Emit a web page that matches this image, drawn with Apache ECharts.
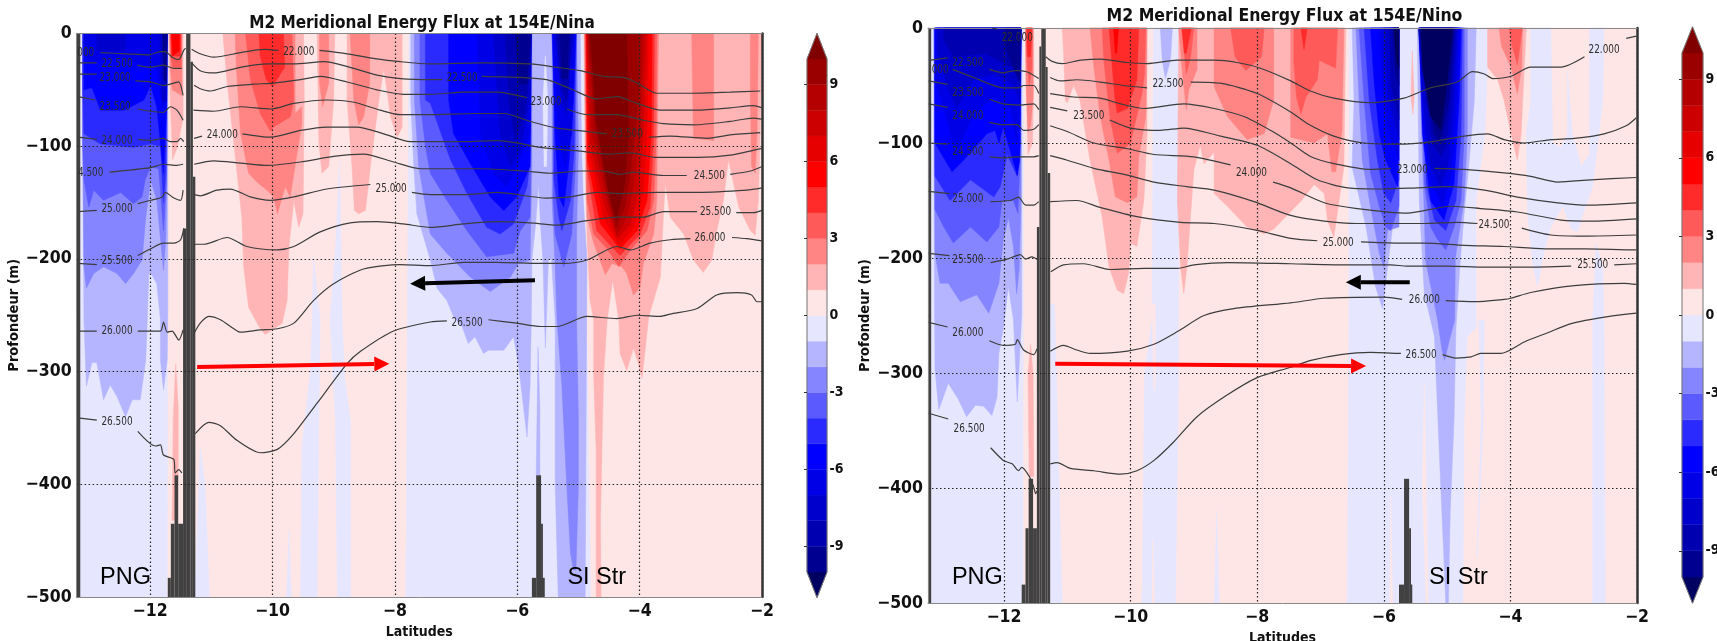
<!DOCTYPE html>
<html><head><meta charset="utf-8">
<style>html,body{margin:0;padding:0;background:#fff}#c{width:1717px;height:641px}</style>
<script src="https://cdn.jsdelivr.net/npm/echarts@6/dist/echarts.min.js"></script>
</head><body><div id="c"></div>
<script>
// Flux colour bands: band k spans [k-11, k-10]
const bandColors=['#000060','#000090','#0000b0','#0000cc','#0000e6','#0000ff','#2a2aff','#5a5aff','#8585ff','#b5b5ff','#e6e6ff','#ffe6e6','#ffb5b5','#ff8585','#ff5a5a','#ff2a2a','#ff0000','#e60000','#cc0000','#b40000','#9b0000','#800000'];
const colorbarTicks=[-9,-6,-3,0,3,6,9];
const latTicks=[-12,-10,-8,-6,-4,-2];
const titles=['M2 Meridional Energy Flux at 154E/Nina','M2 Meridional Energy Flux at 154E/Nino'];

// Flux regions: [band value, ring of lat,depth pairs], painted in order
const ninaBackground=[
[0.5,[-13.2,0,-2,0,-2,500,-13.2,500]],
[-0.5,[-13.2,0,-11.71,0,-11.71,250,-11.72,500,-13.2,500]],
[-0.5,[-7.77,0,-4.92,0,-4.90,150,-4.85,300,-4.80,500,-7.82,500,-7.80,300]],
[-0.5,[-9.33,198,-9.22,254,-9.24,340,-9.27,500,-9.54,500,-9.52,367,-9.38,299,-9.35,254]],
[-0.5,[-8.90,112,-8.86,254,-8.82,306,-8.72,345,-8.72,500,-8.94,500,-8.97,345,-9.06,254,-8.97,190]],
[-0.5,[-11.18,367,-11.10,400,-11.03,500,-11.27,500]],
[-0.5,[-9.73,440,-9.69,500,-9.77,500]]];
const ninaWestBlue=[
[-1.5,[-13.10,0,-11.71,0,-11.71,250,-11.72,290,-11.78,316,-11.83,290,-11.83,254,-11.89,222,-11.99,212,-12.02,213,-12.05,262,-12.07,290,-12.16,325,-12.29,325,-12.40,340,-12.54,322,-12.65,312,-12.76,325,-12.87,292,-12.95,292,-13.04,313,-13.08,254,-13.10,100]],
[-2.5,[-13.10,0,-11.71,0,-11.72,100,-11.74,180,-11.78,210,-11.89,148,-11.99,130,-12.07,163,-12.13,201,-12.27,213,-12.40,222,-12.54,213,-12.76,207,-12.92,213,-13.04,226,-13.08,207,-13.10,100]],
[-3.5,[-13.10,0,-11.72,0,-11.73,130,-11.78,175,-11.86,120,-11.99,118,-12.08,130,-12.13,145,-12.27,151,-12.48,141,-12.76,148,-12.92,139,-13.00,154,-13.08,130,-13.10,100]],
[-4.5,[-13.10,0,-11.72,0,-11.74,120,-11.78,150,-11.83,100,-11.99,98,-12.27,101,-12.81,98,-13.08,89,-13.10,50]],
[-5.5,[-13.08,0,-11.72,0,-11.73,68,-11.78,124,-11.89,65,-11.99,46,-12.10,59,-12.43,68,-12.81,68,-12.95,48,-13.08,50]],
[-6.5,[-13.08,0,-11.72,0,-11.74,60,-11.80,65,-11.89,30,-12.10,28,-12.48,22,-12.95,25,-13.08,20]],
[-7.5,[-12.87,0,-12.40,0,-12.40,15,-12.87,15]],
[-7.5,[-11.85,0,-11.72,0,-11.73,60,-11.80,60]],
[-9.5,[-11.80,0,-11.72,0,-11.73,45,-11.78,40]]];
const ninaEastBlue=[
[-1.5,[-7.74,0,-4.97,0,-4.95,100,-4.92,148,-4.86,200,-4.87,300,-4.89,500,-5.33,500,-5.38,400,-5.38,254,-5.44,200,-5.49,200,-5.54,279,-5.58,200,-5.62,170,-5.65,133,-5.70,170,-5.76,200,-5.77,254,-5.79,313,-5.84,358,-5.98,293,-6.06,269,-6.22,281,-6.47,281,-6.55,284,-6.69,269,-6.80,275,-6.90,260,-7.04,251,-7.15,237,-7.31,226,-7.42,201,-7.64,160,-7.69,118,-7.74,59]],
[-1.5,[-5.66,278,-5.63,330,-5.63,392,-5.69,392]],
[-2.5,[-7.68,0,-5.76,0,-5.76,118,-5.79,201,-5.98,204,-6.11,216,-6.44,229,-6.77,216,-7.15,195,-7.42,178,-7.61,118,-7.68,59]],
[-2.5,[-5.43,0,-5.03,0,-5.00,100,-5.03,178,-5.03,254,-5.00,343,-5.00,402,-5.04,476,-5.08,476,-5.13,461,-5.19,402,-5.27,313,-5.35,254,-5.38,207,-5.43,148]],
[-3.5,[-7.59,0,-5.77,0,-5.77,89,-5.79,163,-5.95,175,-6.06,195,-6.50,198,-6.82,175,-7.15,148,-7.42,124,-7.50,100,-7.59,59]],
[-3.5,[-5.41,0,-5.03,0,-5.05,118,-5.11,178,-5.24,207,-5.38,178,-5.41,148]],
[-4.5,[-7.50,0,-5.77,0,-5.79,112,-5.84,136,-6.06,169,-6.28,178,-6.50,172,-6.82,142,-7.09,112,-7.42,62,-7.50,59]],
[-4.5,[-5.40,0,-5.04,0,-5.07,104,-5.13,148,-5.27,175,-5.32,163,-5.40,130]],
[-5.5,[-7.12,0,-5.77,0,-5.79,118,-6.01,145,-6.22,157,-6.44,145,-6.77,115,-7.04,89,-7.12,59]],
[-5.5,[-5.43,0,-5.04,0,-5.08,59,-5.16,118,-5.24,154,-5.32,145,-5.38,89]],
[-6.5,[-6.66,0,-5.77,0,-5.79,89,-6.01,118,-6.17,136,-6.39,124,-6.60,89]],
[-6.5,[-5.41,0,-5.06,0,-5.11,89,-5.22,118,-5.32,89]],
[-7.5,[-6.39,0,-5.77,0,-5.79,59,-5.95,104,-6.11,118,-6.28,89]],
[-7.5,[-5.38,0,-5.08,0,-5.13,30,-5.19,74,-5.27,59]],
[-8.5,[-6.20,0,-5.77,0,-5.79,30,-5.87,70,-6.03,95,-6.14,60]],
[-8.5,[-5.35,0,-5.12,0,-5.15,30,-5.19,60,-5.27,50]],
[-9.5,[-6.03,0,-5.78,0,-5.84,45,-5.98,45]],
[-9.5,[-5.30,0,-5.15,0,-5.18,40,-5.27,40]],
[-0.5,[-5.54,20,-5.50,60,-5.52,118,-5.56,118,-5.58,60]]];
const ninaWestRed=[
[1.5,[-10.81,0,-9.49,0,-9.48,59,-9.50,160,-9.57,172,-9.65,148,-9.73,189,-9.76,237,-9.84,257,-9.92,260,-10.12,267,-10.22,260,-10.39,243,-10.47,207,-10.50,163,-10.63,98,-10.74,44]],
[1.5,[-9.27,0,-8.98,0,-9.00,59,-9.08,118,-9.19,124,-9.24,98]],
[1.5,[-8.78,0,-7.88,0,-7.88,83,-7.96,92,-8.07,74,-8.18,31,-8.26,59,-8.40,118,-8.48,157,-8.59,160,-8.66,157,-8.70,118,-8.78,59]],
[1.5,[-11.69,0,-11.46,0,-11.46,75,-11.55,100,-11.63,112,-11.67,60]],
[1.5,[-11.58,293,-11.54,330,-11.54,392,-11.60,432,-11.64,432,-11.62,340]],
[2.5,[-10.61,0,-9.63,0,-9.63,71,-9.52,65,-9.52,80,-9.71,145,-9.79,136,-9.92,160,-9.98,145,-10.09,139,-10.25,132,-10.39,124,-10.52,89,-10.59,30]],
[2.5,[-9.23,0,-9.08,0,-9.08,44,-9.18,65,-9.23,44]],
[2.5,[-8.73,0,-8.41,0,-8.41,44,-8.51,74,-8.59,81,-8.67,59]],
[2.5,[-11.68,0,-11.48,0,-11.48,55,-11.64,50,-11.67,30]],
[3.5,[-10.44,0,-9.68,0,-9.65,59,-9.71,74,-9.98,83,-10.03,87,-10.20,71,-10.36,41]],
[3.5,[-11.67,0,-11.49,0,-11.49,30,-11.63,30,-11.66,20]],
[4.5,[-10.22,0,-9.82,0,-9.80,30,-10.00,47,-10.10,41,-10.20,20]],
[4.5,[-11.66,0,-11.50,0,-11.50,20,-11.65,20]],
[5.5,[-11.65,0,-11.52,0,-11.52,15,-11.63,20]]];
const ninaEastRed=[
[1.5,[-4.91,0,-2.00,0,-2.03,89,-2.06,148,-2.11,179,-2.19,175,-2.38,154,-2.55,112,-2.63,148,-2.74,175,-2.82,201,-2.96,212,-3.12,201,-3.28,178,-3.50,163,-3.58,133,-3.61,160,-3.66,216,-3.85,251,-3.96,306,-4.02,293,-4.10,279,-4.21,299,-4.32,284,-4.34,254,-4.44,219,-4.53,254,-4.59,304,-4.64,432,-4.63,500,-4.71,500,-4.71,372,-4.75,304,-4.75,254,-4.81,237,-4.86,178,-4.89,118]],
[2.5,[-4.90,0,-3.69,0,-3.71,89,-3.72,148,-3.77,178,-3.94,204,-3.99,225,-4.10,232,-4.21,213,-4.29,207,-4.45,204,-4.56,214,-4.75,186,-4.86,163,-4.89,59]],
[2.5,[-3.15,0,-2.79,0,-2.79,95,-3.12,93]],
[2.5,[-2.19,0,-2.06,0,-2.08,89,-2.11,124,-2.17,118,-2.19,59]],
[3.5,[-4.89,0,-3.72,0,-3.73,89,-3.77,148,-3.88,175,-4.15,192,-4.34,207,-4.53,191,-4.75,178,-4.86,148]],
[4.5,[-4.88,0,-3.76,0,-3.77,89,-3.83,154,-3.99,178,-4.32,197,-4.70,175,-4.86,118]],
[5.5,[-4.87,0,-3.80,0,-3.81,89,-3.88,148,-4.04,175,-4.32,191,-4.64,169,-4.85,112]],
[6.5,[-4.87,0,-3.85,0,-3.88,89,-3.94,142,-4.10,172,-4.33,188,-4.59,163,-4.83,104]],
[7.5,[-4.86,0,-3.89,0,-3.94,89,-4.02,139,-4.15,169,-4.36,182,-4.56,154,-4.81,98]],
[8.5,[-4.85,0,-3.94,0,-3.99,89,-4.10,136,-4.21,163,-4.37,178,-4.53,148,-4.78,89]],
[9.5,[-4.83,0,-3.99,0,-4.02,59,-4.15,124,-4.24,154,-4.38,172,-4.51,145,-4.73,83]],
[10.5,[-4.81,0,-4.21,0,-4.18,89,-4.24,133,-4.38,166,-4.51,139,-4.70,80]]];

const ninoBackground=[
[0.5,[-13.2,0,-2,0,-2,500,-13.2,500]],
[-0.5,[-13.2,0,-11.69,0,-11.70,500,-13.2,500]],
[-0.5,[-9.64,0,-9.24,0,-9.24,300,-9.29,500,-9.82,500,-9.78,300,-9.66,254]],
[0.5,[-9.66,240,-9.61,240,-9.61,310,-9.63,315]],
[0.5,[-9.65,445,-9.62,500,-9.66,500]],
[-0.5,[-11.27,240,-11.20,240,-11.08,500,-11.27,500]],
[-0.5,[-8.64,420,-8.60,500,-8.68,500]],
[-0.5,[-6.55,0,-4.36,0,-4.36,30,-4.40,90,-4.54,150,-4.54,261,-4.68,268,-4.73,341,-4.75,500,-6.58,500,-6.55,254]],
[0.5,[-5.36,310,-5.33,400,-5.30,500,-5.33,500,-5.39,400]],
[0.5,[-5.89,407,-5.86,500,-5.90,500]],
[-0.5,[-4.57,254,-4.41,254,-4.43,340,-4.52,460,-4.53,460,-4.46,340,-4.50,254]],
[-0.5,[-3.68,0,-3.36,0,-3.33,100,-3.20,104,-3.10,92,-3.10,37,-3.02,92,-2.88,120,-2.75,110,-2.75,0,-2.52,0,-2.54,63,-2.70,138,-2.83,158,-2.94,177,-3.04,175,-3.17,155,-3.36,173,-3.46,193,-3.57,225,-3.65,205,-3.73,161,-3.75,92,-3.68,63]],
[-0.5,[-2.65,187,-2.54,208,-2.52,254,-2.50,500,-2.70,500,-2.70,254]],
[-1.5,[-9.53,0,-9.34,0,-9.37,28,-9.45,44,-9.50,28]]];
const ninoWestBlue=[
[-1.5,[-13.11,0,-11.72,0,-11.72,250,-11.79,325,-11.85,254,-11.93,225,-12.01,261,-12.08,283,-12.11,321,-12.19,337,-12.32,329,-12.45,328,-12.59,338,-12.72,323,-12.88,309,-13.03,332,-13.09,297,-13.11,100]],
[-2.5,[-13.10,0,-11.73,0,-11.73,150,-11.76,210,-11.80,231,-11.85,190,-11.93,165,-12.01,184,-12.08,222,-12.24,248,-12.43,232,-12.69,238,-12.88,222,-13.01,222,-13.09,196]],
[-3.5,[-13.10,0,-11.73,0,-11.75,120,-11.78,161,-11.85,150,-12.03,150,-12.08,173,-12.27,186,-12.53,173,-12.80,187,-12.95,173,-13.09,158]],
[-4.5,[-13.10,0,-11.73,0,-11.74,100,-11.79,129,-11.95,110,-12.06,138,-12.16,147,-12.53,132,-12.85,150,-13.09,129]],
[-5.5,[-13.09,0,-11.73,0,-11.75,115,-11.79,128,-12.01,86,-12.08,100,-12.14,89,-12.27,92,-12.64,115,-12.82,125,-13.09,100]],
[-6.5,[-13.08,0,-11.73,0,-11.75,80,-11.80,100,-11.90,70,-12.16,60,-12.48,75,-12.77,110,-12.90,80,-13.09,45]],
[-7.5,[-13.05,0,-11.73,0,-11.75,65,-11.85,50,-12.16,40,-12.48,45,-12.75,70,-12.90,50,-13.05,20]],
[-8.5,[-12.95,0,-11.73,0,-11.75,50,-11.85,35,-12.30,22,-12.80,25,-12.95,10]],
[-9.5,[-11.98,0,-11.73,0,-11.75,45,-11.85,35,-11.98,15]]];
const ninoEastBlue=[
[-1.5,[-6.50,0,-5.76,0,-5.76,150,-5.84,164,-5.94,208,-6.02,244,-6.13,225,-6.28,173,-6.50,121,-6.47,63]],
[-1.5,[-5.47,0,-4.54,0,-4.57,63,-4.65,115,-4.73,161,-4.80,208,-4.86,261,-4.89,341,-4.95,420,-4.98,500,-5.02,500,-5.10,399,-5.20,268,-5.26,254,-5.36,231,-5.44,150]],
[-2.5,[-6.44,0,-5.76,0,-5.76,173,-5.94,176,-6.00,208,-6.07,196,-6.21,155,-6.34,115,-6.39,63]],
[-2.5,[-5.44,0,-4.68,0,-4.68,92,-4.73,150,-4.78,167,-4.87,200,-4.88,254,-4.98,275,-5.04,289,-5.08,280,-5.15,254,-5.34,202,-5.36,161,-5.41,80]],
[-3.5,[-6.39,0,-5.76,0,-5.76,155,-5.89,176,-5.97,173,-6.07,155,-6.21,126,-6.31,63]],
[-3.5,[-5.41,0,-4.73,0,-4.73,92,-4.78,150,-4.89,173,-5.02,193,-5.15,184,-5.26,173,-5.36,135]],
[-4.5,[-6.31,0,-5.76,0,-5.76,132,-5.89,152,-6.00,144,-6.10,115,-6.23,63]],
[-4.5,[-5.39,0,-4.76,0,-4.78,92,-4.86,150,-5.02,176,-5.20,167,-5.33,135]],
[-5.5,[-6.21,0,-5.76,0,-5.78,138,-5.97,115,-6.07,92,-6.15,48]],
[-5.5,[-5.44,0,-4.78,0,-4.81,63,-4.89,135,-5.05,167,-5.26,150,-5.39,92]],
[-6.5,[-6.07,0,-5.76,0,-5.76,115,-5.89,97,-6.00,63]],
[-6.5,[-5.45,0,-4.81,0,-4.84,63,-4.94,129,-5.07,155,-5.26,133,-5.38,80]],
[-7.5,[-6.00,0,-5.76,0,-5.76,97,-5.92,63]],
[-7.5,[-5.45,0,-4.84,0,-4.89,63,-4.99,121,-5.10,138,-5.26,121,-5.38,60]],
[-8.5,[-5.92,0,-5.76,0,-5.76,80,-5.88,50]],
[-8.5,[-5.44,0,-4.86,0,-4.94,63,-5.02,103,-5.10,112,-5.23,100,-5.38,40]],
[-9.5,[-5.86,0,-5.76,0,-5.76,50,-5.82,40]],
[-9.5,[-5.44,0,-4.89,0,-4.97,63,-5.10,100,-5.20,92,-5.38,30]],
[-10.5,[-5.84,0,-5.76,0,-5.76,35,-5.80,30]],
[-10.5,[-5.41,0,-4.91,0,-5.00,48,-5.10,89,-5.26,77,-5.39,34]]];
const ninoRed=[
[1.5,[-11.66,0,-11.53,0,-11.53,50,-11.55,100,-11.62,110,-11.65,50]],
[1.5,[-11.58,275,-11.54,300,-11.53,390,-11.60,390,-11.62,300]],
[1.5,[-11.08,0,-9.74,0,-9.74,92,-9.79,150,-9.90,190,-10.00,187,-10.03,213,-10.11,231,-10.21,228,-10.34,208,-10.45,164,-10.64,115,-10.80,63,-10.90,50,-11.00,65,-11.03,63,-11.06,20]],
[1.5,[-9.24,0,-6.60,0,-6.63,121,-6.79,182,-6.89,167,-6.94,144,-7.10,136,-7.30,150,-7.74,175,-7.89,179,-8.16,173,-8.47,155,-8.68,144,-8.68,108,-8.84,118,-8.90,102,-9.00,123,-9.11,208,-9.16,231,-9.21,208,-9.26,150]],
[1.5,[-4.36,0,-3.75,0,-3.78,34,-3.83,92,-3.89,115,-3.99,92,-4.10,63,-4.20,45,-4.36,34]],
[1.5,[-5.55,20,-5.52,60,-5.54,75,-5.57,60]],
[2.5,[-11.66,0,-11.54,0,-11.54,60,-11.58,85,-11.62,90,-11.65,50]],
[2.5,[-10.64,0,-9.74,0,-9.76,77,-9.87,112,-9.90,147,-10.05,152,-10.24,147,-10.34,115,-10.48,77,-10.58,34]],
[2.5,[-9.24,0,-8.95,0,-8.95,36,-9.08,54,-9.12,71,-9.19,34]],
[2.5,[-8.68,0,-7.74,0,-7.74,63,-7.89,92,-8.16,97,-8.47,77,-8.68,51]],
[2.5,[-7.47,0,-6.63,0,-6.66,90,-6.76,125,-6.82,125,-6.89,92,-7.10,100,-7.47,95]],
[2.5,[-4.18,0,-3.81,0,-3.82,34,-3.89,57,-3.99,34,-4.14,16]],
[3.5,[-11.65,0,-11.55,0,-11.56,35,-11.60,50,-11.63,35]],
[3.5,[-10.45,0,-9.76,0,-9.78,40,-9.82,57,-10.00,100,-10.21,109,-10.32,80,-10.42,30]],
[3.5,[-9.19,0,-9.00,0,-9.05,25,-9.12,40]],
[3.5,[-8.42,0,-7.89,0,-7.93,25,-8.18,37,-8.35,25]],
[3.5,[-7.42,0,-6.73,0,-6.76,35,-7.02,28,-7.05,45,-7.23,60,-7.31,75,-7.38,60,-7.42,30]],
[3.5,[-4.02,0,-3.81,0,-3.89,32,-3.97,16]],
[4.5,[-11.64,0,-11.56,0,-11.58,25,-11.63,25]],
[4.5,[-10.34,0,-9.87,0,-9.90,45,-10.05,70,-10.21,74,-10.25,60]],
[4.5,[-9.19,0,-9.04,0,-9.12,22,-9.15,22]],
[4.5,[-7.31,0,-7.21,0,-7.26,19]],
[5.5,[-10.27,0,-10.19,0,-10.22,22,-10.24,22]]];

// Sea-floor columns: west lat, east lat, top depth
const ninaFloor=[[-13.2,-13.14,0],[-11.41,-11.34,0],[-11.34,-11.30,25],[-11.30,-11.26,127],[-11.46,-11.41,173],[-11.60,-11.54,392],[-11.66,-11.60,435],[-11.54,-11.46,435],[-11.71,-11.66,483],[-5.69,-5.61,392],[-5.61,-5.58,435],[-5.76,-5.69,483],[-5.61,-5.55,483]];
const ninoFloor=[[-13.2,-13.15,0],[-11.41,-11.34,0],[-11.44,-11.41,16],[-11.34,-11.31,34],[-11.31,-11.27,126],[-11.48,-11.44,173],[-11.61,-11.54,392],[-11.54,-11.48,435],[-11.66,-11.61,435],[-11.72,-11.66,484],[-5.68,-5.60,392],[-5.60,-5.57,435],[-5.76,-5.68,484],[-5.57,-5.55,484]];

// Isotherms: lat,depth pairs, null where the line breaks
const ninaT220=[-12.81,17,-12.38,18,-12.02,19,-11.83,16,-11.75,16,-11.64,21,-11.53,23,-11.45,15,-11.42,13,null,-11.32,14,-11.18,18,-10.96,21,-10.52,17,-10.14,14,-9.90,15,null,-9.23,15,-8.78,18,-8.35,22,-7.91,25,-7.42,27,-6.60,26,-5.79,27,-5.35,30,-4.97,33,-4.59,38,-4.26,39,-4.04,44,-3.72,53,-3.17,53,-2.52,52,-2.03,51];
const ninaT225=[-13.18,26,-12.87,26,null,-12.21,28,-11.99,30,-11.78,28,-11.61,31,-11.48,31,null,-11.32,26,-11.18,33,-10.96,35,-10.52,30,-10.09,27,-9.65,27,-9.16,25,-8.73,30,-8.29,37,-7.91,40,-7.42,41,-7.23,41,null,-6.58,38,-5.95,39,-5.52,41,-5.13,49,-4.70,58,-4.37,56,-4.04,62,-3.66,68,-3.06,68,-2.52,66,-2.14,64,-2.00,66];
const ninaT230=[-13.18,36,-12.87,36,null,-12.24,42,-11.99,43,-11.78,46,-11.61,44,-11.53,43,-11.46,55,null,-11.28,46,-11.18,49,-11.01,51,-10.74,47,-10.31,45,-9.98,44,-9.54,41,-9.22,38,-8.78,43,-8.29,50,-7.86,54,-7.42,54,-6.88,52,-6.33,52,-5.84,57,null,-5.19,67,-4.86,72,-4.37,72,-3.94,77,-3.61,80,-3.12,81,-2.52,78,-2.14,75,-2.00,76];
const ninaT235=[-13.18,56,-12.89,59,null,-12.21,67,-11.99,69,-11.78,70,-11.67,65,-11.56,68,-11.46,77,null,-11.29,68,-10.96,69,-10.52,65,-10.03,67,-9.65,62,-9.11,59,-8.67,61,-8.24,68,-7.91,72,-7.42,72,-6.71,71,-6.22,71,-5.79,78,-5.35,84,-4.86,87,-4.53,89,null,-3.85,92,-3.50,91,-2.90,93,-2.52,90,-2.03,88];
const ninaT240=[-13.18,92,-12.87,94,null,-12.20,94,-11.99,95,-11.78,93,-11.67,96,-11.56,96,-11.50,93,-11.45,96,null,-11.28,93,-11.15,91,null,-10.49,89,-10.03,92,-9.54,86,-9.11,83,-8.62,83,-8.18,89,-7.75,96,-7.42,96,-6.88,96,-6.33,95,-6.01,97,-5.62,101,-5.03,104,-4.53,107,-4.15,106,-3.72,110,-3.06,110,-2.52,108,-2.00,102];
const ninaT245=[-12.66,123,-11.99,119,-11.78,116,-11.56,117,-11.46,116,null,-11.28,116,-10.96,113,-10.52,115,-10.09,117,-9.54,114,-9.00,109,-8.51,107,-8.02,114,-7.58,120,-7.42,120,-6.60,120,-5.90,122,-5.46,124,-4.97,122,-4.59,122,-4.32,125,-4.10,123,-3.61,126,-3.23,126,null,-2.52,125,-2.19,122,-2.00,118];
const ninaT250=[-13.18,158,-12.87,157,null,-12.20,151,-11.99,148,-11.80,145,-11.75,141,-11.61,146,-11.50,148,-11.46,139,null,-11.28,143,-11.18,144,-10.91,139,-10.69,138,-10.36,145,-10.03,148,-9.65,145,-9.11,138,-8.40,134,null,-7.72,141,-7.42,143,-6.88,143,-6.33,141,-5.52,146,-5.13,145,-4.70,141,-4.32,142,-3.72,141,-3.06,141,-2.25,139,-2.00,137];
const ninaT255=[-13.18,204,-12.87,205,null,-12.20,197,-11.99,191,-11.78,186,-11.61,186,-11.50,183,-11.45,173,null,-11.28,187,-11.12,187,-10.74,181,-10.42,189,-9.92,192,-9.65,189,-9.22,176,-8.73,168,-8.29,167,-7.86,169,-7.42,172,-6.88,169,-6.33,167,-5.79,168,-5.35,170,-4.86,166,-4.37,163,-3.94,163,-3.61,158,-3.06,158,null,-2.42,159,-2.14,159,-2.00,157];
const ninaT260=[-13.18,264,-12.87,264,null,-12.20,264,-11.83,264,-11.78,256,-11.72,265,-11.64,264,-11.53,272,-11.46,263,null,-11.28,266,-11.18,257,-11.04,251,-10.85,254,-10.63,262,-10.52,265,-10.20,263,-9.92,262,-9.65,257,-9.33,237,-9.00,222,-8.51,209,-7.91,205,-7.42,206,-6.88,203,-6.33,203,-5.62,204,-5.24,204,-4.86,201,-4.37,189,-4.15,192,-3.83,186,-3.50,183,-3.17,182,null,-2.49,181,-2.25,182,-2.00,184];
const ninaT265=[-13.18,341,-12.87,343,null,-12.20,353,-11.91,366,-11.83,365,-11.78,374,-11.61,378,-11.59,390,-11.53,387,-11.48,390,null,-11.26,355,-11.04,345,-10.85,348,-10.58,361,-10.20,372,-9.92,369,-9.65,355,-9.27,328,-8.78,293,-8.56,282,-8.02,264,-7.42,256,-7.15,255,null,-6.47,254,-6.01,257,-5.62,260,-5.35,260,-4.86,251,-4.37,253,-4.04,250,-3.66,251,-3.50,249,-3.06,244,-2.74,232,-2.41,230,-2.17,232,-2.08,238,-2.00,238];

const ninoT220=[-12.19,0,-12.11,1,null,-11.34,25,-11.24,29,-11.08,31,-10.79,28,-10.48,27,-10.05,30,-9.74,31,-9.26,28,-8.68,28,-8.32,30,-7.95,35,-7.47,46,-7.15,55,-6.79,61,-6.21,65,-5.68,61,-5.26,52,-4.84,47,-4.60,38,-4.41,40,-4.28,44,-3.99,42,-3.68,34,-3.20,34,-2.83,25,null,-2.17,9,-2.01,7];
const ninoT225=[-13.16,28,-12.89,26,null,-12.23,36,-12.01,39,-11.82,37,-11.64,38,-11.45,44,null,-11.27,43,-11.11,46,-10.85,45,-10.48,47,-10.11,50,-9.74,52,null,-9.05,47,-8.58,48,-8.00,57,-7.47,73,-7.21,83,-6.79,94,-6.31,100,-5.78,101,-5.26,99,-4.73,94,-4.36,92,-4.10,97,-3.78,100,-3.36,97,-2.99,96,-2.52,92,-2.17,85,-2.01,78];
const ninoT230=[-12.81,36,-12.48,43,-12.01,52,-11.77,52,-11.69,50,-11.53,50,-11.45,57,null,-11.27,57,-10.90,60,-10.48,61,-10.16,66,-9.79,70,-9.16,66,-8.68,70,-8.21,77,-7.79,89,-7.47,100,-7.15,112,-6.79,118,-6.21,123,-5.89,122,null,-5.20,122,-4.73,123,-4.10,126,-3.68,129,-3.25,134,-2.73,132,-2.01,130];
const ninoT235=[-13.19,46,-12.89,49,null,-12.23,62,-12.01,66,-11.74,67,-11.53,66,-11.45,71,null,-11.27,69,-11.00,72,null,-10.33,80,-10.00,87,-9.53,89,-9.16,87,-8.58,94,-8.00,102,-7.47,118,-7.05,132,-6.57,139,-6.00,140,-5.47,139,-4.99,138,-4.41,141,-3.89,147,-3.25,152,-2.78,154,-2.01,152];
const ninoT240=[-13.19,66,-12.89,69,null,-12.23,82,-12.01,84,-11.79,84,-11.69,89,-11.53,88,-11.45,84,null,-11.27,85,-11.00,90,-10.58,100,-10.05,105,-9.63,110,-9.00,112,-8.42,119,null,-7.75,134,-7.47,139,-6.94,152,-6.42,157,-5.63,161,-4.94,155,-4.47,157,-3.89,160,-3.20,167,-2.73,168,-2.01,166];
const ninoT245=[-13.19,100,-12.89,101,null,-12.23,112,-12.01,113,-11.79,112,-11.53,112,-11.45,111,null,-11.27,111,-11.00,115,-10.58,122,-10.05,128,-9.63,134,-9.11,138,-8.68,141,-8.05,151,-7.47,163,-6.94,168,-6.42,170,-5.89,170,-5.36,170,-4.84,169,-4.52,170,null,-3.82,174,-3.36,180,-2.83,181,-2.01,180];
const ninoT250=[-13.19,142,-12.86,144,null,-12.21,151,-11.90,150,-11.77,147,-11.66,154,-11.53,154,-11.45,151,null,-11.27,151,-10.85,150,-10.48,156,-9.90,164,-9.21,169,-8.68,170,-8.00,176,-7.47,183,-7.05,185,null,-6.36,186,-5.78,187,-5.36,187,-4.73,189,-4.10,190,-3.46,192,-2.83,192,-2.01,193];
const ninoT255=[-13.19,196,-12.86,198,null,-12.21,204,-11.95,201,-11.74,197,-11.66,201,-11.56,199,-11.45,202,null,-11.26,212,-11.06,206,-10.74,205,-10.32,210,-9.79,209,-9.26,209,-9.00,206,-8.47,204,-7.47,205,-6.68,206,-5.89,206,-5.63,207,-4.99,207,-4.41,208,-3.78,208,-3.04,207,null,-2.36,206,-2.01,205];
const ninoT260=[-13.19,256,-12.89,260,null,-12.23,272,-12.01,276,-11.82,275,-11.79,271,-11.69,280,-11.53,284,-11.48,279,null,-11.27,281,-11.06,276,-10.85,280,-10.64,283,-10.05,281,-9.63,275,-9.26,264,-8.84,250,-8.37,244,-7.47,239,-6.94,235,-6.00,234,-5.71,236,null,-5.02,237,-4.57,238,-4.10,236,-3.99,235,-3.68,230,-2.99,224,-2.20,222,-2.01,223];
const ninoT265=[-13.19,335,-12.88,340,null,-12.21,365,-12.01,376,-11.87,379,-11.77,385,-11.72,382,-11.61,389,-11.53,399,-11.50,405,-11.47,402,null,-11.27,379,-11.16,378,-10.95,383,-10.58,385,-10.16,388,-9.90,385,-9.63,376,-9.32,360,-8.95,338,-8.47,319,-8.00,304,-7.47,295,-7.15,289,-6.68,284,-6.21,282,-5.73,283,null,-5.07,284,-4.86,287,-4.62,286,-4.47,283,-4.15,283,-3.78,273,-3.41,265,-3.04,257,-2.46,251,-2.01,248];

// Inline isotherm labels: text, lat, depth
const ninaLabels=[['000',-13.05,17],['22.500',-12.54,27],['23.000',-12.57,39],['23.500',-12.57,65],['24.000',-12.54,95],['4.500',-12.97,124],['25.000',-12.54,156],['25.500',-12.54,202],['26.000',-12.54,264],['26.500',-12.54,345],['22.000',-9.57,16],['24.000',-10.82,90],['25.000',-8.06,138],['22.500',-6.90,39],['23.000',-5.53,61],['23.500',-4.20,89],['24.500',-2.86,126],['25.500',-2.76,158],['26.000',-2.85,181],['26.500',-6.82,257]];
const ninoLabels=[['22.000',-11.79,9],['22.500',-12.57,30],['.000',-13.03,36],['23.500',-12.57,56],['24.000',-12.57,76],['24.500',-12.57,108],['25.000',-12.57,149],['25.500',-12.57,202],['26.000',-12.57,265],['26.500',-12.55,349],['22.500',-9.41,49],['23.500',-10.66,76],['24.000',-8.09,126],['23.000',-5.55,123],['24.500',-4.26,171],['25.000',-6.72,187],['25.500',-2.70,206],['26.000',-5.36,236],['26.500',-5.41,284],['22.000',-2.52,19]];
const ninaPlaces=[['PNG',-12.40,483],['SI Str',-4.70,483]];
const ninoPlaces=[['PNG',-12.42,478],['SI Str',-4.82,478]];

// Arrows: start lat, start depth, tip lat, tip depth, colour index
const arrowColors=['#000000','#ff0000'];
const ninaArrows=[[-5.71,219,-7.75,222,0],[-11.23,296,-8.09,293,1]];
const ninoArrows=[[-5.59,221,-6.60,221,0],[-11.19,292,-6.28,294,1]];

const panels=[
 {left:76.6,top:33.5,width:685.4,height:563.5,tx:417,ty:10,ts:17,yGap:30,flux:[...ninaBackground,...ninaWestRed,...ninaEastRed,...ninaWestBlue,...ninaEastBlue],floor:ninaFloor,lines:[ninaT220,ninaT225,ninaT230,ninaT235,ninaT240,ninaT245,ninaT250,ninaT255,ninaT260,ninaT265],labels:ninaLabels,places:ninaPlaces,arrows:ninaArrows,cb:{left:807,top:59,width:20,height:513}},
 {left:928,top:28,width:709,height:575,tx:1279.5,ty:2.5,ts:17.5,yGap:36,flux:[...ninoBackground,...ninoRed,...ninoWestBlue,...ninoEastBlue],floor:ninoFloor,lines:[ninoT220,ninoT225,ninoT230,ninoT235,ninoT240,ninoT245,ninoT250,ninoT255,ninoT260,ninoT265],labels:ninoLabels,places:ninoPlaces,arrows:ninoArrows,cb:{left:1682,top:53,width:21,height:524}}
];

const pairs=a=>{const o=[];for(let i=0;i<a.length;){if(a[i]===null){o.push(null);i++;}else{o.push([a[i],a[i+1]]);i+=2;}}return o;};
const colorOf=v=>bandColors[Math.floor(v)+11];
const BOLD='"DejaVu Sans Condensed","DejaVu Sans",sans-serif';
const minus=v=>String(v).replace('-','\u2212');

const grids=[],xAxes=[],yAxes=[],series=[],titleOpts=[];
panels.forEach((p,k)=>{grids[k]={left:p.left,top:p.top,width:p.width,height:p.height,outerBoundsMode:'none'};grids[k+2]={...p.cb,outerBoundsMode:'none'};});
panels.forEach((p,k)=>{
 titleOpts.push({text:titles[k],left:p.tx,top:p.ty,textAlign:'center',textStyle:{fontFamily:BOLD,fontWeight:'bold',fontSize:p.ts,color:'#111'}});
 const dotted={show:true,lineStyle:{color:'#222',type:[1.5,2.5],width:1.2}};
 xAxes[k]={type:'value',gridIndex:k,min:-13.2,max:-2,position:'bottom',z:5,name:'Latitudes',nameLocation:'middle',nameGap:16.5,nameTextStyle:{fontFamily:BOLD,fontWeight:'bold',fontSize:14,color:'#111'},
  axisLine:{onZero:false,lineStyle:{color:'#888'}},axisTick:{show:false,customValues:latTicks},splitLine:dotted,
  axisLabel:{customValues:latTicks,formatter:minus,margin:5,fontFamily:BOLD,fontWeight:'bold',fontSize:17.5,color:'#111'}};
 yAxes[k]={type:'value',gridIndex:k,min:-500,max:0,interval:100,z:5,name:'Profondeur (m)',nameLocation:'middle',nameGap:p.yGap,nameTextStyle:{fontFamily:BOLD,fontWeight:'bold',fontSize:14.5,color:'#111'},
  axisLine:{show:true,onZero:false,lineStyle:{color:'#888'}},axisTick:{show:false},splitLine:dotted,
  axisLabel:{formatter:minus,margin:5,padding:[4,0,0,0],fontFamily:BOLD,fontWeight:'bold',fontSize:17.5,color:'#111'}};
 xAxes[k+2]={type:'value',gridIndex:k+2,min:0,max:1,show:false};
 yAxes[k+2]={type:'value',gridIndex:k+2,min:-10,max:10,interval:1,position:'right',z:5,splitLine:{show:false},
  axisLine:{show:false},axisTick:{show:true,inside:true,length:3,customValues:colorbarTicks,lineStyle:{color:'#333'}},
  axisLabel:{customValues:colorbarTicks,margin:2.5,padding:[3,0,0,0],fontFamily:BOLD,fontWeight:'bold',fontSize:14,color:'#111'}};
 xAxes[k+4]={type:'value',gridIndex:k,min:-13.2,max:-2,position:'top',z:5,axisLine:{show:true,onZero:false,lineStyle:{color:'#888'}},axisTick:{show:false},axisLabel:{show:false},splitLine:{show:false}};
 yAxes[k+4]={type:'value',gridIndex:k,min:-500,max:0,interval:100,position:'right',z:5,axisLine:{show:true,onZero:false,lineStyle:{color:'#333',width:2.5}},axisTick:{show:false},axisLabel:{show:false},splitLine:{show:false}};

 const base={type:'custom',coordinateSystem:'cartesian2d',xAxisIndex:k,yAxisIndex:k,silent:true,animation:false};
 // filled flux regions
 series.push({...base,name:'flux',z:1,encode:{x:0,y:1},
  data:p.flux.map((r,i)=>[r[1][0],-r[1][1],r[0],i]),
  renderItem:(pr,api)=>{const r=p.flux[api.value(3)];const c=colorOf(r[0]);
   return {type:'polygon',shape:{points:pairs(r[1]).map(q=>api.coord([q[0],-q[1]]))},style:{fill:c,stroke:c,lineWidth:0.5}};}});
 // sea floor
 series.push({...base,name:'floor',z:3,encode:{x:0,y:1},
  data:p.floor.map(f=>[f[0],-f[2],f[1]]),
  renderItem:(pr,api)=>{const a=api.coord([api.value(0),api.value(1)]),b=api.coord([api.value(2),-500]);
   return {type:'rect',shape:{x:a[0],y:a[1],width:b[0]-a[0],height:b[1]-a[1]},style:{fill:'#414141'}};}});
 // isotherms
 p.lines.forEach((l,i)=>series.push({type:'line',name:'isotherm'+i,xAxisIndex:k,yAxisIndex:k,z:6,silent:true,animation:false,showSymbol:false,connectNulls:false,smooth:0.25,
  lineStyle:{color:'#3d3d3d',width:1.2},data:pairs(l).map(q=>q?[q[0],-q[1]]:['-','-'])}));
 // isotherm labels
 series.push({...base,name:'labels',z:7,encode:{x:0,y:1},
  data:p.labels.map((l,i)=>[l[1],-l[2],i]),
  renderItem:(pr,api)=>{const c=api.coord([api.value(0),api.value(1)]);
   return {type:'text',x:c[0],y:c[1],scaleX:0.74,style:{text:p.labels[api.value(2)][0],fontFamily:'"DejaVu Sans",sans-serif',fontSize:12,fill:'#2e2e2e',align:'center',verticalAlign:'middle'}};}});
 // place names
 series.push({...base,name:'places',z:8,encode:{x:0,y:1},
  data:p.places.map((l,i)=>[l[1],-l[2],i]),
  renderItem:(pr,api)=>{const c=api.coord([api.value(0),api.value(1)]);
   return {type:'text',x:c[0],y:c[1],style:{text:p.places[api.value(2)][0],fontFamily:'"Liberation Sans",sans-serif',fontSize:23.5,fill:'#000',align:'center',verticalAlign:'middle'}};}});
 // arrows
 series.push({...base,name:'arrows',z:8,encode:{x:0,y:1},
  data:p.arrows.map(a=>[a[0],-a[1],a[2],-a[3],a[4]]),
  renderItem:(pr,api)=>{const s=api.coord([api.value(0),api.value(1)]),t=api.coord([api.value(2),api.value(3)]);
   const c=arrowColors[api.value(4)],dx=t[0]-s[0],dy=t[1]-s[1],n=Math.hypot(dx,dy),ux=dx/n,uy=dy/n,L=15,W=7.5,bx=t[0]-ux*L,by=t[1]-uy*L;
   return {type:'group',children:[
    {type:'line',shape:{x1:s[0],y1:s[1],x2:bx,y2:by},style:{stroke:c,lineWidth:4}},
    {type:'polygon',shape:{points:[t,[bx-uy*W,by+ux*W],[bx+uy*W,by-ux*W]]},style:{fill:c}}]};}});
 // colour bar
 const cb={type:'custom',coordinateSystem:'cartesian2d',xAxisIndex:k+2,yAxisIndex:k+2,silent:true,animation:false,z:2,encode:{x:0,y:1}};
 series.push({...cb,name:'colorbar',data:bandColors.map((c,i)=>[0,i-11,i]),
  renderItem:(pr,api)=>{const i=api.value(2),lo=i-11,hi=lo+1;const P=(x,y)=>api.coord([x,y]);
   const pts=i===0?[P(.5,lo),P(1,hi),P(0,hi)]:i===bandColors.length-1?[P(0,lo),P(1,lo),P(.5,hi)]:[P(0,lo),P(1,lo),P(1,hi),P(0,hi)];
   return {type:'polygon',shape:{points:pts},style:{fill:bandColors[i],stroke:bandColors[i],lineWidth:.4}};}});
 series.push({...cb,name:'colorbarOutline',z:3,data:[[0,0]],
  renderItem:(pr,api)=>{const P=(x,y)=>api.coord([x,y]);
   return {type:'polygon',shape:{points:[P(.5,11),P(1,10),P(1,-10),P(.5,-11),P(0,-10),P(0,10)]},style:{fill:'none',stroke:'#777',lineWidth:1}};}});
});

const chart=echarts.init(document.getElementById('c'),null,{renderer:'canvas'});
chart.setOption({animation:false,backgroundColor:'#fff',title:titleOpts,grid:grids,xAxis:xAxes,yAxis:yAxes,series:series});
</script></body></html>
